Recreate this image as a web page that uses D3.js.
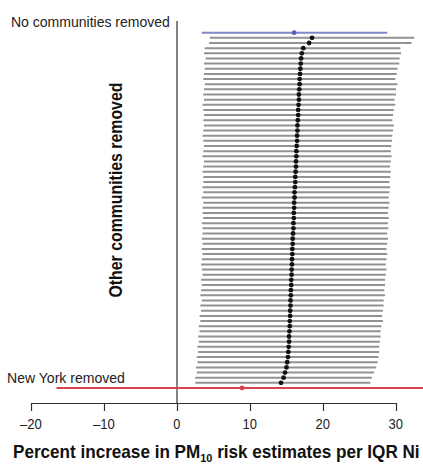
<!DOCTYPE html>
<html>
<head>
<meta charset="utf-8">
<script src="https://cdn.jsdelivr.net/npm/d3@7"></script>
<style>
  html, body { margin: 0; padding: 0; background: #fff; }
  svg { display: block; }
  text { font-family: "Liberation Sans", Arial, sans-serif; }
</style>
</head>
<body>
<svg id="chart" width="423" height="465"></svg>
<script>
// ---- data ----
const overallEst = 16.05, overallLo = 3.4, overallHi = 28.8;       // No communities removed
const nyEst = 8.9, nyLo = -16.5, nyHi = 36;                        // New York removed

// other communities removed (top to bottom)
const otherEst = [
  18.5, 18.1, 17.3,
  17.1, 17.0, 16.95, 16.9, 16.85, 16.8, 16.8, 16.75, 16.7, 16.7, 16.65, 16.6,
  16.6, 16.55, 16.5, 16.5, 16.45, 16.45, 16.4, 16.35, 16.35, 16.3, 16.3, 16.25, 16.2, 16.2, 16.15,
  16.1, 16.1, 16.05, 16.05, 16.0, 16.0, 15.95, 15.95, 15.9, 15.85, 15.85, 15.8, 15.8, 15.75, 15.75,
  15.7, 15.7, 15.65, 15.65, 15.6, 15.6, 15.55, 15.55, 15.5,
  15.5, 15.45, 15.45, 15.4, 15.35, 15.35, 15.3, 15.25, 15.2, 15.1, 15.0, 14.8, 14.6, 14.25
];
const otherHi = [
  32.5, 32.1, 30.6, 30.7, 30.5, 30.45, 30.2, 30.1, 29.9, 30.2, 30.0, 30.0, 29.8, 29.9, 29.7, 29.6, 29.5, 29.7, 29.6, 29.5, 29.45, 29.35,
  29.3, 29.4, 29.3, 29.2, 29.3, 29.2, 29.1, 29.2, 29.1, 29.0, 29.1, 29.0, 28.9, 29.0, 28.9, 28.95, 28.8, 28.9,
  28.8, 28.7, 28.8, 28.7, 28.6, 28.7, 28.6, 28.5, 28.5, 28.4, 28.5, 28.3, 28.3, 28.2, 28.1, 28.2, 28.0, 27.9, 27.9, 27.8, 27.7, 27.7, 27.6, 27.5,
  27.3, 27.0, 26.7, 26.5
];
const otherLo = [
  4.5, 4.4, 3.8, 3.7, 3.9, 3.7, 3.8, 3.7, 3.6, 3.8, 3.7, 3.6, 3.7, 3.5, 3.6, 3.7, 3.6, 3.7, 3.6, 3.5, 3.6, 3.7,
  3.6, 3.5, 3.7, 3.6, 3.5, 3.6, 3.6, 3.5, 3.6, 3.4, 3.6, 3.5, 3.5, 3.6, 3.4, 3.5, 3.5, 3.4,
  3.5, 3.4, 3.5, 3.4, 3.3, 3.4, 3.5, 3.3, 3.4, 3.3, 3.2, 3.4, 3.2, 3.3, 3.1, 3.2, 3.0, 3.1, 2.9, 3.0, 2.8, 2.9, 2.7, 2.8,
  2.6, 2.7, 2.5, 2.5
];

const tickValues = [-20, -10, 0, 10, 20, 30];
const tickLabels = ["\u201320", "\u201310", "0", "10", "20", "30"];

const labelTop = "No communities removed";
const labelBottom = "New York removed";
const yTitle = "Other communities removed";

// ---- build rows ----
const rows = [];
rows.push({key: "none", est: overallEst, lo: overallLo, hi: overallHi, type: "overall"});
otherEst.forEach((e, i) => rows.push({key: "c" + i, est: e, lo: otherLo[i], hi: otherHi[i], type: "other"}));
rows.push({key: "ny", est: nyEst, lo: nyLo, hi: nyHi, type: "ny"});

const svg = d3.select("#chart");

const x = d3.scaleLinear().domain([-20, 30]).range([31, 396]);
const y = d3.scalePoint().domain(rows.map(d => d.key)).range([32.7, 388]);

const colors = {overall: "#7f88c8", other: "#929292", ny: "#d9434f"};
const dotColors = {overall: "#5561b3", other: "#111", ny: "#d9434f"};

// condensed text helper: scales a text group horizontally to a target width
function condensed(parent, x0, y0, width, anchor, build) {
  const outer = parent.append("g");
  const inner = outer.append("g");
  const t = inner.append("text").attr("x", 0).attr("y", 0);
  build(t);
  const w = t.node().getBBox().width;
  const s = width / w;
  let tx = x0;
  if (anchor === "end") tx = x0 - width;
  else if (anchor === "middle") tx = x0 - width / 2;
  inner.attr("transform", `translate(${tx},${y0}) scale(${s},1)`);
  return outer;
}

// vertical zero line
svg.append("line")
  .attr("x1", x(0)).attr("x2", x(0))
  .attr("y1", 21).attr("y2", 403)
  .attr("stroke", "#333").attr("stroke-width", 1.2);

// interval lines
svg.append("g").selectAll("line").data(rows).join("line")
  .attr("x1", d => x(d.lo)).attr("x2", d => x(d.hi))
  .attr("y1", d => y(d.key)).attr("y2", d => y(d.key))
  .attr("stroke", d => colors[d.type])
  .attr("stroke-width", 2);

// points
svg.append("g").selectAll("circle").data(rows).join("circle")
  .attr("cx", d => x(d.est)).attr("cy", d => y(d.key))
  .attr("r", 2.4)
  .attr("fill", d => dotColors[d.type]);

// x axis
const axis = d3.axisBottom(x).tickValues(tickValues)
  .tickFormat(() => "").tickSize(8).tickSizeOuter(0);
const gx = svg.append("g").attr("transform", "translate(0,403)").call(axis);
gx.select(".domain").attr("stroke", "#333").attr("stroke-width", 1.2);
gx.selectAll(".tick line").attr("stroke", "#333").attr("stroke-width", 1.2);
// tick labels (condensed)
tickValues.forEach((v, i) => {
  const lbl = tickLabels[i];
  condensed(svg, x(v), 429, lbl.length * 7.4, "middle", t =>
    t.attr("font-size", 15.5).attr("fill", "#222").text(lbl));
});

// labels
condensed(svg, 170, 27, 159, "end", t =>
  t.attr("font-size", 15.5).attr("fill", "#222").text(labelTop));

condensed(svg, 7, 383, 118, "start", t =>
  t.attr("font-size", 15.5).attr("fill", "#222").text(labelBottom));

// y title (rotated)
const yg = svg.append("g").attr("transform", "translate(122,190) rotate(-90)");
condensed(yg, 0, 0, 215, "middle", t =>
  t.attr("font-size", 18.5).attr("font-weight", "bold").attr("fill", "#111").text(yTitle));

// x title
condensed(svg, 13, 458, 407, "start", t => {
  t.attr("font-size", 18).attr("font-weight", "bold").attr("fill", "#111");
  t.append("tspan").text("Percent increase in PM");
  t.append("tspan").attr("font-size", 11.5).attr("dy", 4).text("10");
  t.append("tspan").attr("dy", -4).text(" risk estimates per IQR Ni");
});
</script>
</body>
</html>
